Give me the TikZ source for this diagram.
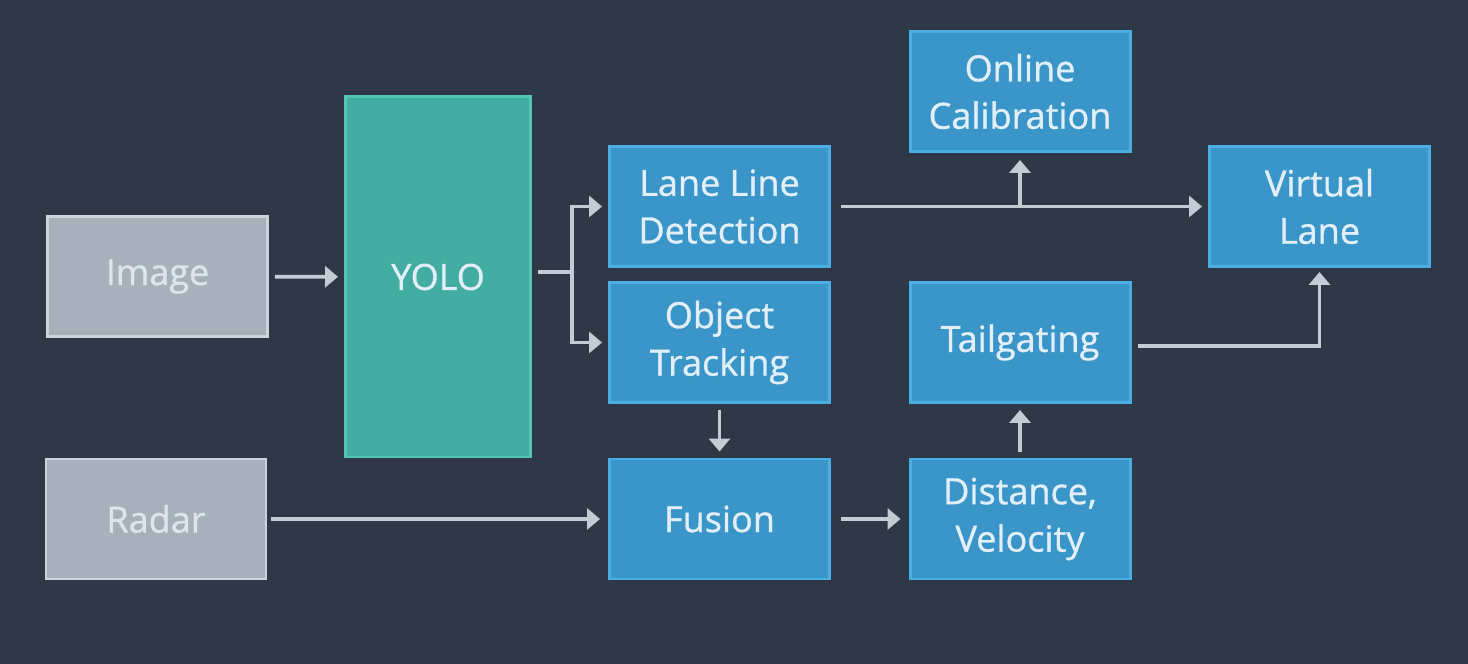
\documentclass[tikz,border=0pt]{standalone}
\usepackage{fontspec}
\setmainfont{Open Sans}
\newfontfamily\labelfont{Open Sans}[FakeBold=0.9]
\usepackage{tikz}
\usetikzlibrary{shapes, arrows.meta, positioning}

\definecolor{bgdark}{HTML}{2E3846}
\definecolor{grayfill}{HTML}{A7B1BB}
\definecolor{grayline}{HTML}{CCD3DA}
\definecolor{graytext}{HTML}{DDE4EA}
\definecolor{bluefill}{HTML}{3A95C8}
\definecolor{blueline}{HTML}{4AAEE3}
\definecolor{bluetext}{HTML}{E2EFF8}
\definecolor{tealfill}{HTML}{43ACA3}
\definecolor{tealline}{HTML}{52C7B2}
\definecolor{arrowcol}{HTML}{C3CCD4}

\begin{document}
\begin{tikzpicture}[
    box/.style={rectangle, line width=1.7pt, minimum width=4.4cm, minimum height=2.4cm,
                inner sep=0pt, align=center, font=\labelfont\fontsize{20.5}{27}\selectfont},
    inbox/.style={box, fill=grayfill, draw=grayline, text=graytext},
    procbox/.style={box, fill=bluefill, draw=blueline, text=bluetext},
    netbox/.style={box, fill=tealfill, draw=tealline, text=bluetext},
    line/.style={draw=arrowcol, line width=2.1pt},
    arrow/.style={line, -{Triangle[length=0.26cm, width=0.42cm]}}
  ]
  \fill[bgdark] (0,0) rectangle (29.36,13.28);
  \useasboundingbox (0,0) rectangle (29.36,13.28);

  % inputs
  \node[inbox] (image) at (3.15, 7.75) {Image};
  \node[inbox] (radar) at (3.12, 2.90) {Radar};
  \node[netbox, minimum width=3.7cm, minimum height=7.2cm] (yolo) at (8.76, 7.74) {YOLO};

  % processing
  \node[procbox] (lane)  at (14.39, 9.15)  {Lane Line\\Detection};
  \node[procbox] (track) at (14.39, 6.43)  {Object\\Tracking};
  \node[procbox] (fusion) at (14.39, 2.90) {Fusion};
  \node[procbox] (calib) at (20.40, 11.45) {Online\\Calibration};
  \node[procbox] (tail)  at (20.40, 6.43)  {Tailgating};
  \node[procbox] (dist)  at (20.40, 2.90)  {Distance,\\Velocity};
  \node[procbox] (vlane) at (26.39, 9.15)  {Virtual\\Lane};

  \coordinate (split) at (11.44, 7.84);

  \draw[arrow, shorten <=0.12cm, shorten >=0.12cm] (image) -- (yolo);
  \draw[line, shorten <=0.12cm] (yolo.east |- split) -- (split);
  \draw[arrow, shorten >=0.12cm] (split) |- (lane.west);
  \draw[arrow, shorten >=0.12cm] (split) |- (track.west);
  \draw[arrow, shorten <=0.2cm, shorten >=0.12cm] (lane) -- (vlane);
  \draw[arrow, shorten >=0.14cm] (calib.south |- lane.east) -- (calib.south);
  \draw[arrow, shorten <=0.12cm, shorten >=0.08cm] ([yshift=-0.07cm]tail.east) -| (vlane.south);
  \draw[arrow, shorten <=0.12cm, shorten >=0.12cm] (track) -- (fusion);
  \draw[arrow, shorten <=0.08cm, shorten >=0.16cm] (radar) -- (fusion);
  \draw[arrow, shorten <=0.2cm, shorten >=0.16cm] (fusion) -- (dist);
  \draw[arrow, shorten <=0.12cm, shorten >=0.12cm] (dist) -- (tail);

\end{tikzpicture}
\end{document}
